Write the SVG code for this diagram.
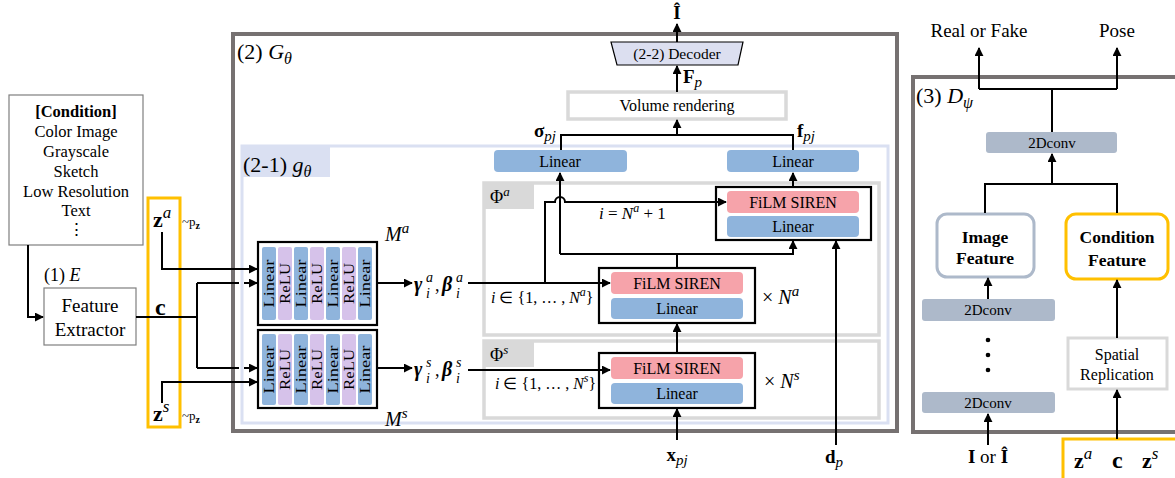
<svg xmlns="http://www.w3.org/2000/svg" width="1175" height="478" viewBox="0 0 1175 478" font-family="Liberation Serif">
<defs>
<marker id="ah" viewBox="0 0 10 10" refX="9" refY="5" markerWidth="9" markerHeight="9" markerUnits="userSpaceOnUse" orient="auto"><path d="M0,0 L10,5 L0,10 z" fill="#000"/></marker>
<style>
text{fill:#000}
.t16{font-size:16px}
.mid{text-anchor:middle}
.ln{fill:none;stroke:#000;stroke-width:2}
.ar{fill:none;stroke:#000;stroke-width:2;marker-end:url(#ah)}
.blue{fill:#8fb4dc}
.pink{fill:#f6a3aa}
.relu{fill:#d6c2ea}
.lgray{fill:#fff;stroke:#d9d9d9;stroke-width:3.5}
.conv{fill:#adb9ca}
.blk{fill:#fff;stroke:#000;stroke-width:2.2}
</style>
</defs>
<rect width="1175" height="478" fill="#fff"/>

<g id="G">
<rect x="233" y="34" width="664" height="397" fill="#fff" stroke="#767171" stroke-width="4"/>
<text x="237" y="59" font-size="22">(2) <tspan font-style="italic">G</tspan><tspan font-style="italic" dy="5" font-size="16">θ</tspan></text>
</g>

<g id="g21">
<rect x="242" y="146" width="646" height="277" fill="#fff" stroke="#dae0f2" stroke-width="3"/>
<rect x="242" y="147" width="88" height="30" fill="#dae0f2"/>
<text x="243" y="172" font-size="22">(2-1) <tspan font-style="italic">g</tspan><tspan font-style="italic" dy="5" font-size="16">θ</tspan></text>
</g>

<g id="PhiA">
<rect x="484" y="183" width="395" height="152" class="lgray"/>
<rect x="484" y="183" width="50" height="26" fill="#d9d9d9"/>
<text x="490" y="203" font-size="18">Φ<tspan font-style="italic" dy="-7" font-size="13">a</tspan></text>
</g>
<g id="PhiS">
<rect x="484" y="341" width="395" height="77" class="lgray"/>
<rect x="484" y="341" width="50" height="26" fill="#d9d9d9"/>
<text x="490" y="361" font-size="18">Φ<tspan font-style="italic" dy="-7" font-size="13">s</tspan></text>
</g>

<g id="condition">
<rect x="9" y="95" width="134" height="150" fill="#fff" stroke="#7f7f7f" stroke-width="1.2"/>
<g font-size="16.5" text-anchor="middle">
<text x="76" y="117" font-weight="bold">[Condition]</text>
<text x="76" y="137">Color Image</text>
<text x="76" y="157">Grayscale</text>
<text x="76" y="177">Sketch</text>
<text x="76" y="197">Low Resolution</text>
<text x="76" y="216">Text</text>
<text x="76" y="235">⋮</text>
</g>
</g>

<g id="extractor">
<text x="44" y="281" font-size="18">(1) <tspan font-style="italic">E</tspan></text>
<rect x="44" y="288" width="92" height="57" fill="#fff" stroke="#7f7f7f" stroke-width="1.2"/>
<text x="90" y="312" class="mid" font-size="19">Feature</text>
<text x="90" y="336" class="mid" font-size="19">Extractor</text>
</g>

<g id="latents">
<rect x="148" y="198" width="32" height="229" fill="none" stroke="#ffc000" stroke-width="3"/>
<text x="153" y="227" font-weight="bold" font-size="22">z<tspan font-style="italic" font-weight="normal" dy="-9" font-size="17">a</tspan></text>
<text x="182" y="226" font-size="13">~p<tspan font-weight="bold" dy="3" font-size="10">z</tspan></text>
<text x="155" y="315" font-weight="bold" font-size="24">c</text>
<text x="153" y="421" font-weight="bold" font-size="22">z<tspan font-style="italic" font-weight="normal" dy="-9" font-size="17">s</tspan></text>
<text x="182" y="420" font-size="13">~p<tspan font-weight="bold" dy="3" font-size="10">z</tspan></text>
</g>

<g id="Ma">
<rect x="258" y="242" width="119" height="83" class="blk"/>
<rect x="262" y="247" width="14" height="73" rx="2" class="blue"/>
<rect x="278" y="247" width="14" height="73" rx="2" class="relu"/>
<rect x="294" y="247" width="14" height="73" rx="2" class="blue"/>
<rect x="310" y="247" width="14" height="73" rx="2" class="relu"/>
<rect x="326" y="247" width="14" height="73" rx="2" class="blue"/>
<rect x="342" y="247" width="14" height="73" rx="2" class="relu"/>
<rect x="358" y="247" width="14" height="73" rx="2" class="blue"/>
<g font-size="14.5" text-anchor="middle">
<text transform="translate(274,283.5) rotate(-90)" textLength="48" lengthAdjust="spacingAndGlyphs">Linear</text>
<text transform="translate(290,283.5) rotate(-90)" textLength="41" lengthAdjust="spacingAndGlyphs">ReLU</text>
<text transform="translate(306,283.5) rotate(-90)" textLength="48" lengthAdjust="spacingAndGlyphs">Linear</text>
<text transform="translate(322,283.5) rotate(-90)" textLength="41" lengthAdjust="spacingAndGlyphs">ReLU</text>
<text transform="translate(338,283.5) rotate(-90)" textLength="48" lengthAdjust="spacingAndGlyphs">Linear</text>
<text transform="translate(354,283.5) rotate(-90)" textLength="41" lengthAdjust="spacingAndGlyphs">ReLU</text>
<text transform="translate(370,283.5) rotate(-90)" textLength="48" lengthAdjust="spacingAndGlyphs">Linear</text>
</g>
<text x="385" y="241" font-style="italic" font-size="20">M<tspan dy="-8" font-size="15">a</tspan></text>
</g>

<g id="Ms">
<rect x="258" y="330" width="119" height="78" class="blk"/>
<rect x="262" y="334" width="14" height="71" rx="2" class="blue"/>
<rect x="278" y="334" width="14" height="71" rx="2" class="relu"/>
<rect x="294" y="334" width="14" height="71" rx="2" class="blue"/>
<rect x="310" y="334" width="14" height="71" rx="2" class="relu"/>
<rect x="326" y="334" width="14" height="71" rx="2" class="blue"/>
<rect x="342" y="334" width="14" height="71" rx="2" class="relu"/>
<rect x="358" y="334" width="14" height="71" rx="2" class="blue"/>
<g font-size="14.5" text-anchor="middle">
<text transform="translate(274,369.5) rotate(-90)" textLength="48" lengthAdjust="spacingAndGlyphs">Linear</text>
<text transform="translate(290,369.5) rotate(-90)" textLength="41" lengthAdjust="spacingAndGlyphs">ReLU</text>
<text transform="translate(306,369.5) rotate(-90)" textLength="48" lengthAdjust="spacingAndGlyphs">Linear</text>
<text transform="translate(322,369.5) rotate(-90)" textLength="41" lengthAdjust="spacingAndGlyphs">ReLU</text>
<text transform="translate(338,369.5) rotate(-90)" textLength="48" lengthAdjust="spacingAndGlyphs">Linear</text>
<text transform="translate(354,369.5) rotate(-90)" textLength="41" lengthAdjust="spacingAndGlyphs">ReLU</text>
<text transform="translate(370,369.5) rotate(-90)" textLength="48" lengthAdjust="spacingAndGlyphs">Linear</text>
</g>
<text x="385" y="426" font-style="italic" font-size="20">M<tspan dy="-8" font-size="15">s</tspan></text>
</g>

<g id="gbA">
<text x="414" y="291" font-weight="bold" font-style="italic" font-size="20">γ</text>
<text x="426" y="282" font-style="italic" font-size="14">a</text>
<text x="426" y="298" font-style="italic" font-size="14">i</text>
<text x="435" y="291" font-size="18">,</text>
<text x="442" y="291" font-weight="bold" font-style="italic" font-size="20">β</text>
<text x="456" y="282" font-style="italic" font-size="14">a</text>
<text x="456" y="298" font-style="italic" font-size="14">i</text>
</g>
<g id="gbS">
<text x="414" y="376" font-weight="bold" font-style="italic" font-size="20">γ</text>
<text x="426" y="367" font-style="italic" font-size="14">s</text>
<text x="426" y="383" font-style="italic" font-size="14">i</text>
<text x="435" y="376" font-size="18">,</text>
<text x="442" y="376" font-weight="bold" font-style="italic" font-size="20">β</text>
<text x="456" y="367" font-style="italic" font-size="14">s</text>
<text x="456" y="383" font-style="italic" font-size="14">i</text>
</g>

<g id="linL">
<rect x="494" y="150" width="133" height="22" rx="4" class="blue"/>
<text x="560" y="167" class="t16 mid">Linear</text>
</g>
<g id="linR">
<rect x="727" y="150" width="132" height="22" rx="4" class="blue"/>
<text x="793" y="167" class="t16 mid">Linear</text>
</g>

<g id="filmTop">
<rect x="716" y="187" width="155" height="53" class="blk"/>
<rect x="727" y="191" width="132" height="22" rx="4" class="pink"/>
<text x="793" y="208" class="t16 mid">FiLM SIREN</text>
<rect x="727" y="216" width="132" height="21" rx="4" class="blue"/>
<text x="793" y="232" class="t16 mid">Linear</text>
</g>
<g id="filmA">
<rect x="599" y="268" width="156" height="55" class="blk"/>
<rect x="611" y="272" width="132" height="22" rx="4" class="pink"/>
<text x="677" y="289" class="t16 mid">FiLM SIREN</text>
<rect x="611" y="298" width="132" height="21" rx="4" class="blue"/>
<text x="677" y="314" class="t16 mid">Linear</text>
<text x="762" y="304" font-size="20">× <tspan font-style="italic">N</tspan><tspan font-style="italic" dy="-8" font-size="15">a</tspan></text>
</g>
<g id="filmS">
<rect x="599" y="353" width="156" height="55" class="blk"/>
<rect x="611" y="357" width="132" height="22" rx="4" class="pink"/>
<text x="677" y="374" class="t16 mid">FiLM SIREN</text>
<rect x="611" y="383" width="132" height="21" rx="4" class="blue"/>
<text x="677" y="399" class="t16 mid">Linear</text>
<text x="764" y="388" font-size="20">× <tspan font-style="italic">N</tspan><tspan font-style="italic" dy="-8" font-size="15">s</tspan></text>
</g>

<text x="599" y="219" font-size="17"><tspan font-style="italic">i</tspan> =  <tspan font-style="italic">N</tspan><tspan font-style="italic" dy="-7" font-size="12">a</tspan><tspan dy="7"> + 1</tspan></text>
<text x="491" y="303" font-size="16"><tspan font-style="italic">i</tspan> ∈ {1, … , <tspan font-style="italic">N</tspan><tspan font-style="italic" dy="-7" font-size="12">a</tspan><tspan dy="7">}</tspan></text>
<text x="495" y="389" font-size="16"><tspan font-style="italic">i</tspan> ∈ {1, … , <tspan font-style="italic">N</tspan><tspan font-style="italic" dy="-7" font-size="12">s</tspan><tspan dy="7">}</tspan></text>

<g id="volume">
<rect x="568" y="92" width="218" height="27" class="lgray"/>
<text x="677" y="111" class="t16 mid">Volume rendering</text>
</g>
<g id="decoder">
<path d="M611,42 L743,42 L738,65 L617,65 Z" fill="#dcdff0" stroke="#000" stroke-width="1.2"/>
<text x="677" y="59" class="mid" font-size="15.5">(2-2) Decoder</text>
</g>
<text x="677" y="19" class="mid" font-weight="bold" font-size="19">Î</text>
<text x="683" y="83" font-weight="bold" font-size="19">F<tspan font-style="italic" font-weight="normal" dy="4" font-size="15">p</tspan></text>
<text x="556" y="137" text-anchor="end" font-weight="bold" font-size="19">σ<tspan font-style="italic" font-weight="normal" dy="4" font-size="15">pj</tspan></text>
<text x="797" y="137" font-weight="bold" font-size="19">f<tspan font-style="italic" font-weight="normal" dy="4" font-size="15">pj</tspan></text>
<text x="677" y="461" class="mid" font-weight="bold" font-size="19">x<tspan font-style="italic" font-weight="normal" dy="4" font-size="15">pj</tspan></text>
<text x="834" y="463" class="mid" font-weight="bold" font-size="19">d<tspan font-style="italic" font-weight="normal" dy="4" font-size="15">p</tspan></text>

<g id="D">
<rect x="913" y="77" width="270" height="355" fill="#fff" stroke="#767171" stroke-width="4"/>
<text x="916" y="103" font-size="22">(3) <tspan font-style="italic">D</tspan><tspan font-style="italic" dy="5" font-size="16">ψ</tspan></text>
</g>
<text x="979" y="37" class="mid" font-size="19">Real or Fake</text>
<text x="1117" y="37" class="mid" font-size="19">Pose</text>
<g id="conv1">
<rect x="986" y="132" width="131" height="21" rx="3" class="conv"/>
<text x="1052" y="148" class="mid" font-size="15" fill="#222">2Dconv</text>
</g>
<g id="imgfeat">
<rect x="937" y="214" width="97" height="63" rx="10" fill="#fff" stroke="#adb9ca" stroke-width="3"/>
<text x="985" y="243" class="mid" font-weight="bold" font-size="17.5">Image</text>
<text x="985" y="264" class="mid" font-weight="bold" font-size="17.5">Feature</text>
</g>
<g id="condfeat">
<rect x="1066" y="214" width="102" height="65" rx="10" fill="#fff" stroke="#ffc000" stroke-width="3"/>
<text x="1117" y="243" class="mid" font-weight="bold" font-size="17.5">Condition</text>
<text x="1117" y="266" class="mid" font-weight="bold" font-size="17.5">Feature</text>
</g>
<g id="conv2">
<rect x="922" y="299" width="133" height="22" rx="3" class="conv"/>
<text x="988" y="315" class="mid" font-size="15" fill="#222">2Dconv</text>
</g>
<g id="dots">
<circle cx="988" cy="340" r="2.3"/><circle cx="988" cy="355" r="2.3"/><circle cx="988" cy="370" r="2.3"/>
</g>
<g id="conv3">
<rect x="922" y="392" width="133" height="21" rx="3" class="conv"/>
<text x="988" y="408" class="mid" font-size="15" fill="#222">2Dconv</text>
</g>
<g id="spatial">
<rect x="1068" y="338" width="99" height="51" fill="#fff" stroke="#d9d9d9" stroke-width="3"/>
<text x="1117" y="360" class="mid" font-size="16">Spatial</text>
<text x="1117" y="380" class="mid" font-size="16">Replication</text>
</g>
<text x="988" y="463" class="mid" font-size="19"><tspan font-weight="bold">I</tspan> or <tspan font-weight="bold">Î</tspan></text>
<g id="latents2">
<rect x="1063" y="439" width="125" height="50" fill="#fff" stroke="#ffc000" stroke-width="3"/>
<text x="1074" y="468" font-weight="bold" font-size="22">z<tspan font-style="italic" font-weight="normal" dy="-9" font-size="17">a</tspan></text>
<text x="1112" y="468" font-weight="bold" font-size="24">c</text>
<text x="1142" y="468" font-weight="bold" font-size="22">z<tspan font-style="italic" font-weight="normal" dy="-9" font-size="17">s</tspan></text>
</g>

<g id="connectors">
<path class="ar" d="M28,245 V317 H43"/>
<path class="ln" d="M136,317 H197"/>
<path class="ln" d="M197,283 V368"/>
<path class="ln" d="M197,283 H239"/>
<path class="ar" d="M244,283 H257"/>
<path class="ln" d="M197,368 H239"/>
<path class="ar" d="M244,368 H257"/>
<path class="ar" d="M162,232 V269 H257"/>
<path class="ar" d="M162,403 V382 H257"/>
<path class="ar" d="M377,283 H412"/>
<path class="ar" d="M377,368 H412"/>
<path class="ar" d="M468,283 H610"/>
<path class="ar" d="M468,370 H610"/>
<path class="ar" d="M545,283 V202 H555 A5,5 0 0 1 565,202 H726"/>
<path class="ln" d="M677,268 V254"/>
<path class="ar" d="M560,254 H793 V241"/>
<path class="ar" d="M560,254 V173"/>
<path class="ar" d="M793,187 V173"/>
<path class="ar" d="M677,353 V324"/>
<path class="ar" d="M677,440 V409"/>
<path class="ar" d="M836,445 V241"/>
<path class="ln" d="M561,150 V135 H793 V150"/>
<path class="ar" d="M677,135 V120"/>
<path class="ar" d="M677,92 V66"/>
<path class="ar" d="M677,42 V24"/>
<path class="ar" d="M979,89 V48"/>
<path class="ar" d="M1117,89 V48"/>
<path class="ln" d="M979,89 H1117"/>
<path class="ln" d="M1052,89 V132"/>
<path class="ar" d="M1052,184 V154"/>
<path class="ln" d="M985,213 V184 H1117 V213"/>
<path class="ar" d="M988,299 V278"/>
<path class="ar" d="M988,445 V414"/>
<path class="ar" d="M1117,338 V280"/>
<path class="ar" d="M1117,439 V390"/>
</g>
</svg>
